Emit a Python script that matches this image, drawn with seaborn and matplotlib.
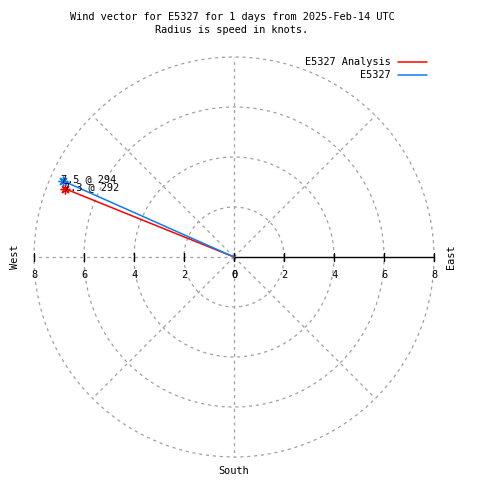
import numpy as np
import pandas as pd
import matplotlib
matplotlib.use("Agg")
import matplotlib.pyplot as plt
from matplotlib.lines import Line2D
import seaborn as sns

# ---- data ----
series_names = ["E5327 Analysis", "E5327"]
speeds = [7.3, 7.5]          # knots
directions = [292, 294]      # degrees
series_colors = ["#ff0000", "#0a7cf5"]
radius_ticks = [0, 2, 4, 6, 8]
title_lines = ["Wind vector for E5327 for 1 days from 2025-Feb-14 UTC",
               "Radius is speed in knots."]

sns.set_style("white")
plt.rcParams['font.family'] = ['DejaVu Sans Mono', 'DejaVu Sans']
plt.rcParams['text.color'] = 'black'
FS = 7.4

fig = plt.figure(figsize=(4.8, 4.8), dpi=100)
ax = fig.add_axes([0, 0, 1, 1])
# pixel mapping: center at (234,257), 25 px per knot
ax.set_xlim(-234 / 25, (480 - 234) / 25)
ax.set_ylim(-(480 - 257) / 25, 257 / 25)
ax.set_aspect('auto')
ax.axis('off')

rmax = max(radius_ticks)
grid_kw = dict(color="#a0a0a0", lw=0.9, ls=(0, (2.5, 3)), zorder=1)
th = np.linspace(0, 2 * np.pi, 400)
for r in radius_ticks[1:]:
    ax.plot(r * np.cos(th), r * np.sin(th), **grid_kw)
for a in range(0, 360, 45):
    if a == 0:
        continue
    t = np.deg2rad(a)
    ax.plot([0, rmax * np.cos(t)], [0, rmax * np.sin(t)], **grid_kw)

# east axis solid black
ax.plot([0, rmax], [0, 0], color="black", lw=1.0, zorder=2)
# ticks and labels on the horizontal axis
for r in radius_ticks:
    for s in (1, -1):
        x = s * r
        ax.plot([x, x], [-0.17, 0.17], color="black", lw=1.0, zorder=2)
        ax.text(x, -0.72, str(r), ha="center", va="center", fontsize=FS, zorder=3)

# vectors
rows = []
for name, sp, d in zip(series_names, speeds, directions):
    ang = np.deg2rad(90 - d)
    rows.append({"series": name, "x": 0.0, "y": 0.0, "k": 0})
    rows.append({"series": name, "x": sp * np.cos(ang), "y": sp * np.sin(ang), "k": 1})
df = pd.DataFrame(rows)
sns.lineplot(data=df, x="x", y="y", hue="series", palette=dict(zip(series_names, series_colors)),
             sort=False, estimator=None, units="series", legend=False, lw=1.1, ax=ax, zorder=4)
ax.set_xlabel(""); ax.set_ylabel("")
ends = df[df.k == 1]
for (_, row), c, sp, d in zip(ends.iterrows(), series_colors, speeds, directions):
    ax.plot(row.x, row.y, marker=(8, 2, 0), ms=7, color=c, mew=1.0, zorder=5)
    ax.text(row.x - 0.05, row.y + 0.05, f"{sp:.1f} @ {d}", ha="left", va="center",
            fontsize=FS, zorder=6)

# compass labels
ax.text((15 - 234) / 25, 0, "West", rotation=90, ha="center", va="center", fontsize=FS)
ax.text((451 - 234) / 25, 0, "East", rotation=90, ha="center", va="center", fontsize=FS)
ax.text(0, -(471 - 257) / 25, "South", ha="center", va="center", fontsize=FS)

# title
fig.text(232 / 480, 1 - 17 / 480, title_lines[0], ha="center", va="center", fontsize=FS)
fig.text(232 / 480, 1 - 30 / 480, title_lines[1], ha="center", va="center", fontsize=FS)

# legend (manual, gnuplot style)
for i, (name, c) in enumerate(zip(series_names, series_colors)):
    yp = 62 + 13 * i
    fig.text(391 / 480, 1 - yp / 480, name, ha="right", va="center", fontsize=FS)
    fig.add_artist(Line2D([398 / 480, 427 / 480], [1 - yp / 480, 1 - yp / 480], color=c, lw=1.1))

fig.savefig("out.png", dpi=100)
